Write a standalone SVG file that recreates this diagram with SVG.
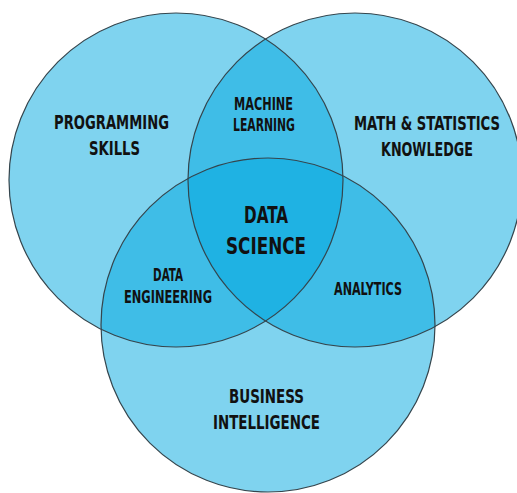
<svg xmlns="http://www.w3.org/2000/svg" width="517" height="493" viewBox="0 0 517 493">
<style>
.fill{fill:#00a8e0;fill-opacity:0.5;stroke:none}
.edge{fill:none;stroke:#34454d;stroke-width:1.2}
text{font-family:"DejaVu Sans Condensed","Liberation Sans Narrow","Liberation Sans",sans-serif;font-weight:bold;fill:#111;text-anchor:middle}
.big{font-size:19px}
.mid{font-size:17.5px}
.ctr{font-size:23px}
</style>
<rect width="517" height="493" fill="#ffffff"/>
<g id="programming-skills">
<circle class="fill" cx="176" cy="180" r="167"/>
</g>
<g id="math-statistics">
<circle class="fill" cx="355" cy="180" r="167"/>
</g>
<g id="business-intelligence">
<circle class="fill" cx="268" cy="325" r="167"/>
</g>
<g id="outlines">
<circle class="edge" cx="176" cy="180" r="167"/>
<circle class="edge" cx="355" cy="180" r="167"/>
<circle class="edge" cx="268" cy="325" r="167"/>
</g>
<g id="connectors"/>
<g id="label-programming">
<text class="big" x="111.5" y="129" textLength="115" lengthAdjust="spacingAndGlyphs">PROGRAMMING</text>
<text class="big" x="114.5" y="155" textLength="51" lengthAdjust="spacingAndGlyphs">SKILLS</text>
</g>
<g id="label-math">
<text class="big" x="427" y="130" textLength="146" lengthAdjust="spacingAndGlyphs">MATH &amp; STATISTICS</text>
<text class="big" x="427" y="156" textLength="92" lengthAdjust="spacingAndGlyphs">KNOWLEDGE</text>
</g>
<g id="machine-learning">
<text class="mid" x="263.5" y="110" textLength="59" lengthAdjust="spacingAndGlyphs">MACHINE</text>
<text class="mid" x="264" y="131" textLength="62" lengthAdjust="spacingAndGlyphs">LEARNING</text>
</g>
<g id="data-science">
<text class="ctr" x="266" y="223" textLength="44" lengthAdjust="spacingAndGlyphs">DATA</text>
<text class="ctr" x="266" y="254" textLength="80" lengthAdjust="spacingAndGlyphs">SCIENCE</text>
</g>
<g id="data-engineering">
<text class="mid" x="168" y="281" textLength="30" lengthAdjust="spacingAndGlyphs">DATA</text>
<text class="mid" x="168" y="303" textLength="88" lengthAdjust="spacingAndGlyphs">ENGINEERING</text>
</g>
<g id="analytics">
<text class="mid" x="368" y="295" textLength="68" lengthAdjust="spacingAndGlyphs">ANALYTICS</text>
</g>
<g id="label-business">
<text class="big" x="266.5" y="403" textLength="75" lengthAdjust="spacingAndGlyphs">BUSINESS</text>
<text class="big" x="266.5" y="429" textLength="107" lengthAdjust="spacingAndGlyphs">INTELLIGENCE</text>
</g>
</svg>
